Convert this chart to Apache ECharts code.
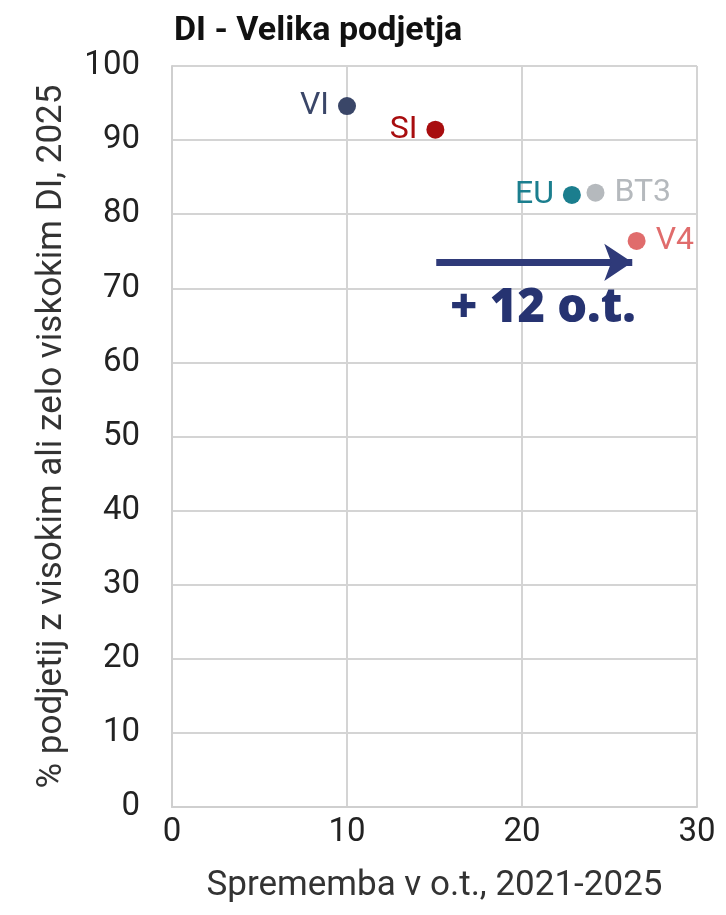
<!DOCTYPE html>
<html><head><meta charset="utf-8">
<script src="https://cdn.jsdelivr.net/npm/echarts@6/dist/echarts.min.js"></script>
<style>html,body{margin:0;padding:0;background:#fff}#c{width:726px;height:915px}</style>
</head><body><div id="c"></div>
<script>
const names = ['VI','SI','EU','BT3','V4'];
const xValues = [10, 15.05, 22.85, 24.2, 26.55];
const yValues = [94.6, 91.4, 82.6, 82.9, 76.4];
const colors = ['#3a4668','#a80d0f','#1b7e8e','#b5b9bd','#e06c6c'];
const labelSide = ['left','left','left','right','right'];
const arrowStart = [15.1, 73.5];
const arrowEnd = [26.3, 73.5];
const annotText = '+ 12 o.t.';
const annotPos = [21.2, 67.2];
const xTicks = {min:0, max:30, interval:10};
const yTicks = {min:0, max:100, interval:10};

const font = 'Roboto, "Liberation Sans", sans-serif';
const chart = echarts.init(document.getElementById('c'));
const series = names.map((n,i)=>({
  type:'scatter', name:n, symbolSize:18,
  data:[[xValues[i], yValues[i]]],
  itemStyle:{color:colors[i], opacity:1},
  label:{show:true, formatter:n, position:labelSide[i], distance:(labelSide[i]==='left'?9:10),
    color:colors[i], fontSize:32, fontFamily:font},
  z:5
}));
series.push({
  type:'scatter', data:[annotPos], symbolSize:0, silent:true,
  itemStyle:{opacity:1, color:'#263371'},
  label:{show:true, position:'inside', formatter:annotText, color:'#263371',
    fontSize:47, fontWeight:800, fontFamily:'"Open Sans", Roboto, sans-serif'},
  markLine:{silent:true, symbol:['none','arrow'], symbolSize:[28,28],
    lineStyle:{color:'#2f3a79', width:7, type:'solid', opacity:1}, label:{show:false},
    data:[[{coord:arrowStart},{coord:arrowEnd}]]}
});
chart.setOption({
  animation:false,
  title:{text:'DI - Velika podjetja', left:169, top:9,
    textStyle:{fontSize:34, fontWeight:'bold', color:'#111', fontFamily:font}},
  grid:{left:172, right:29, top:66, bottom:108},
  xAxis:{type:'value', min:xTicks.min, max:xTicks.max, interval:xTicks.interval,
    name:'Sprememba v o.t., 2021-2025', nameLocation:'middle', nameGap:62,
    nameTextStyle:{fontSize:35, color:'#333', fontFamily:font},
    axisLine:{show:true, lineStyle:{color:'#cfcfcf', width:2}}, axisTick:{show:false},
    axisLabel:{fontSize:33, color:'#222', margin:9, fontFamily:font},
    splitLine:{show:true, lineStyle:{color:'#d4d4d4', width:2}}},
  yAxis:{type:'value', min:yTicks.min, max:yTicks.max, interval:yTicks.interval,
    name:'% podjetij z visokim ali zelo viskokim DI, 2025', nameLocation:'middle', nameGap:102,
    nameTextStyle:{fontSize:35, color:'#333', fontFamily:font},
    axisLine:{show:true, lineStyle:{color:'#cfcfcf', width:2}}, axisTick:{show:false},
    axisLabel:{fontSize:33, color:'#222', margin:32, fontFamily:font},
    splitLine:{show:true, lineStyle:{color:'#d4d4d4', width:2}}},
  series:series
});
</script></body></html>
